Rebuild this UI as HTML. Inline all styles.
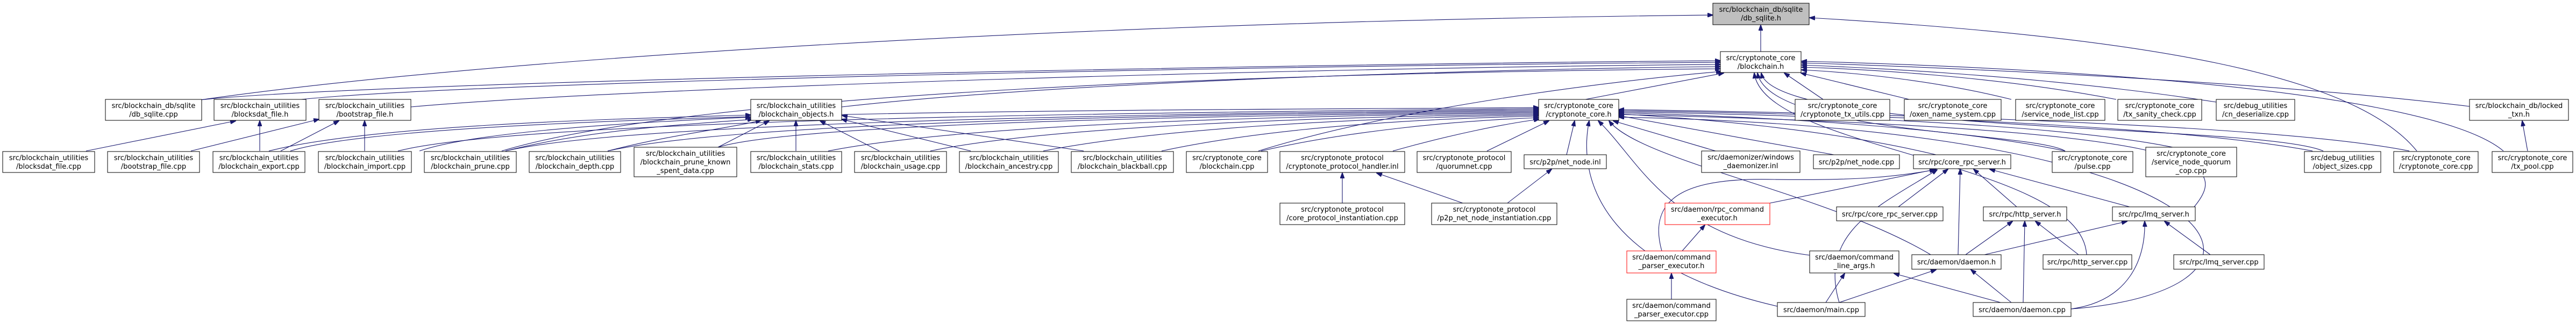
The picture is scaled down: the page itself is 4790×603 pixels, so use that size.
<!DOCTYPE html>
<html><head><meta charset="utf-8">
<style>
html,body{margin:0;padding:0;background:#fff;}
svg{display:block;}
text{font-family:"DejaVu Sans","Liberation Sans",sans-serif;font-size:13px;fill:#000;}
.e{fill:none;stroke:#191970;stroke-width:1.1;marker-end:url(#a);}
rect{fill:#fff;stroke:#000;stroke-width:1;}
.g{fill:#bfbfbf;}
.r{stroke:#ff0000;}
</style></head><body>
<svg width="4790" height="603" viewBox="0 0 4790 603" xmlns="http://www.w3.org/2000/svg">
<defs><marker id="a" markerUnits="userSpaceOnUse" markerWidth="11" markerHeight="8" refX="10" refY="4" orient="auto"><path d="M0,0 L11,4 L0,8 z" fill="#191970" stroke="#191970"/></marker></defs>

<!-- edges to sqlite.h -->
<path class="e" d="M3274,96 L3274,47"/>
<path class="e" d="M372,186 C900,110 2000,40 3185,28"/>
<path class="e" d="M4494,281 C4380,140 4000,70 3365,33"/>

<!-- edges to blockchain.h -->
<path class="e" d="M372,186 C700,150 2500,118 3199,113"/>
<path class="e" d="M560,185 C900,150 2500,120 3199,116"/>
<path class="e" d="M764,199 C1200,160 2500,125 3199,120"/>
<path class="e" d="M1565,199 C2000,150 2800,128 3199,124"/>
<path class="e" d="M933,281 C1300,170 2400,135 3199,128"/>
<path class="e" d="M2340,281 C2600,200 3000,150 3201,133"/>
<path class="e" d="M2948,185 L3205,136"/>
<path class="e" d="M3390,185 L3318,136"/>
<path class="e" d="M3550,185 L3349,136"/>
<path class="e" d="M3740,185 C3600,150 3450,135 3350,130"/>
<path class="e" d="M3935,185 C3700,140 3450,128 3350,125"/>
<path class="e" d="M4121,190 C3800,140 3450,125 3350,121"/>
<path class="e" d="M4592,198 C4200,150 3600,125 3350,117"/>
<path class="e" d="M4655,281 C4500,150 3600,120 3350,114"/>
<path class="e" d="M4320,281 C4200,230 3300,250 3275,136"/>
<path class="e" d="M3840,281 C3780,245 3290,250 3268,136"/>
<path class="e" d="M3880,474 C3870,300 3280,280 3262,136"/>

<!-- edges to cryptonote_core.h -->
<path class="e" d="M540,281 C800,200 2400,205 2861,200"/>
<path class="e" d="M740,281 C1000,215 2400,208 2861,202"/>
<path class="e" d="M940,281 C1200,220 2400,210 2861,204"/>
<path class="e" d="M1130,281 C1400,220 2400,212 2861,206"/>
<path class="e" d="M1335,274 C1500,225 2400,214 2861,208"/>
<path class="e" d="M1540,281 C1800,230 2400,215 2861,210"/>
<path class="e" d="M1730,281 C1950,235 2450,218 2861,212"/>
<path class="e" d="M1940,281 C2150,240 2500,220 2861,214"/>
<path class="e" d="M2160,281 C2350,240 2600,222 2861,216"/>
<path class="e" d="M2345,281 C2500,245 2700,225 2861,219"/>
<path class="e" d="M2590,281 C2700,250 2800,230 2862,222"/>
<path class="e" d="M2765,281 L2880,225"/>
<path class="e" d="M2913,288 L2928,225"/>
<path class="e" d="M3190,281 L3000,225"/>
<path class="e" d="M3410,288 L3009,215"/>
<path class="e" d="M3600,288 C3400,240 3150,220 3010,212"/>
<path class="e" d="M3840,281 C3600,230 3200,215 3010,210"/>
<path class="e" d="M4040,274 C3800,225 3250,212 3010,208"/>
<path class="e" d="M4300,281 C4000,225 3300,210 3010,206"/>
<path class="e" d="M4480,281 C4200,225 3300,208 3010,204"/>
<path class="e" d="M4080,385 C4150,300 4100,240 3010,213"/>
<path class="e" d="M3590,474 C3400,360 3050,300 2992,225"/>
<path class="e" d="M3365,475 C3100,440 3050,300 2972,225"/>
<path class="e" d="M3305,570 C3000,500 2930,350 2955,225"/>
<path class="e" d="M3851,575 C4300,540 4200,240 3010,218"/>

<!-- edges to blockchain_objects.h -->
<path class="e" d="M500,281 C700,230 1200,220 1396,214"/>
<path class="e" d="M780,281 C900,240 1250,225 1396,218"/>
<path class="e" d="M940,281 C1100,240 1300,230 1400,222"/>
<path class="e" d="M1130,281 C1250,250 1350,240 1415,224"/>
<path class="e" d="M1335,274 L1430,225"/>
<path class="e" d="M1480,281 L1480,225"/>
<path class="e" d="M1635,281 L1525,225"/>
<path class="e" d="M1805,281 L1565,222"/>
<path class="e" d="M2015,281 L1566,215"/>

<!-- blocksdat / bootstrap -->
<path class="e" d="M160,281 L438,225"/>
<path class="e" d="M483,281 L483,225"/>
<path class="e" d="M355,281 L593,222"/>
<path class="e" d="M522,281 L630,225"/>
<path class="e" d="M678,281 L678,225"/>

<!-- protocol handler / net_node.inl -->
<path class="e" d="M2496,378 L2496,322"/>
<path class="e" d="M2720,378 L2560,322"/>
<path class="e" d="M2803,378 L2885,315"/>

<!-- core_rpc_server.h -->
<path class="e" d="M3291,378 L3600,315"/>
<path class="e" d="M3530,385 L3622,315"/>
<path class="e" d="M3750,385 L3670,315"/>
<path class="e" d="M3960,385 L3700,315"/>
<path class="e" d="M3641,474 L3645,315"/>
<path class="e" d="M3420,563 C3380,430 3500,380 3602,316"/>
<path class="e" d="M3090,467 C3060,360 3150,330 3300,334 C3450,336 3520,330 3598,316"/>

<!-- rpc_command_executor, parser -->
<path class="e" d="M3128,467 L3170,419"/>
<path class="e" d="M3108,557 L3108,509"/>

<!-- http_server.h -->
<path class="e" d="M3655,474 L3742,412"/>
<path class="e" d="M3762,563 L3765,412"/>
<path class="e" d="M3865,474 L3785,412"/>

<!-- lmq_server.h -->
<path class="e" d="M3690,474 L3955,412"/>
<path class="e" d="M3851,575 C3960,560 3990,480 3988,412"/>
<path class="e" d="M4110,474 L4025,412"/>

<!-- command_line_args.h / daemon.h -->
<path class="e" d="M3395,563 L3430,509"/>
<path class="e" d="M3720,563 L3522,509"/>
<path class="e" d="M3420,563 L3600,502"/>
<path class="e" d="M3740,563 L3665,502"/>

<!-- locked txn -->
<path class="e" d="M4700,281 L4690,225"/>

<!-- NODES -->
<g>
<rect class="g" x="3185" y="6" width="179" height="40"/><text x="3274.5" y="22" text-anchor="middle">src/blockchain_db/sqlite</text><text x="3274.5" y="38" text-anchor="middle">/db_sqlite.h</text>
<rect x="3199" y="96" width="150" height="39"/><text x="3274" y="112" text-anchor="middle">src/cryptonote_core</text><text x="3274" y="128" text-anchor="middle">/blockchain.h</text>

<rect x="196" y="185" width="179" height="39"/><text x="285.5" y="201" text-anchor="middle">src/blockchain_db/sqlite</text><text x="285.5" y="217" text-anchor="middle">/db_sqlite.cpp</text>
<rect x="398" y="185" width="171" height="39"/><text x="483.5" y="201" text-anchor="middle">src/blockchain_utilities</text><text x="483.5" y="217" text-anchor="middle">/blocksdat_file.h</text>
<rect x="593" y="185" width="171" height="39"/><text x="678.5" y="201" text-anchor="middle">src/blockchain_utilities</text><text x="678.5" y="217" text-anchor="middle">/bootstrap_file.h</text>
<rect x="1396" y="185" width="169" height="39"/><text x="1480.5" y="201" text-anchor="middle">src/blockchain_utilities</text><text x="1480.5" y="217" text-anchor="middle">/blockchain_objects.h</text>
<rect x="2861" y="185" width="149" height="39"/><text x="2935.5" y="201" text-anchor="middle">src/cryptonote_core</text><text x="2935.5" y="217" text-anchor="middle">/cryptonote_core.h</text>
<rect x="3338" y="185" width="176" height="39"/><text x="3426" y="201" text-anchor="middle">src/cryptonote_core</text><text x="3426" y="217" text-anchor="middle">/cryptonote_tx_utils.cpp</text>
<rect x="3541" y="185" width="180" height="39"/><text x="3631" y="201" text-anchor="middle">src/cryptonote_core</text><text x="3631" y="217" text-anchor="middle">/oxen_name_system.cpp</text>
<rect x="3748" y="185" width="166" height="39"/><text x="3831" y="201" text-anchor="middle">src/cryptonote_core</text><text x="3831" y="217" text-anchor="middle">/service_node_list.cpp</text>
<rect x="3938" y="185" width="156" height="39"/><text x="4016" y="201" text-anchor="middle">src/cryptonote_core</text><text x="4016" y="217" text-anchor="middle">/tx_sanity_check.cpp</text>
<rect x="4121" y="185" width="146" height="39"/><text x="4194" y="201" text-anchor="middle">src/debug_utilities</text><text x="4194" y="217" text-anchor="middle">/cn_deserialize.cpp</text>
<rect x="4592" y="185" width="184" height="39"/><text x="4684" y="201" text-anchor="middle">src/blockchain_db/locked</text><text x="4684" y="217" text-anchor="middle">_txn.h</text>

<rect x="5" y="282" width="171" height="39"/><text x="90.5" y="298" text-anchor="middle">src/blockchain_utilities</text><text x="90.5" y="314" text-anchor="middle">/blocksdat_file.cpp</text>
<rect x="200" y="282" width="171" height="39"/><text x="285.5" y="298" text-anchor="middle">src/blockchain_utilities</text><text x="285.5" y="314" text-anchor="middle">/bootstrap_file.cpp</text>
<rect x="396" y="282" width="171" height="39"/><text x="481.5" y="298" text-anchor="middle">src/blockchain_utilities</text><text x="481.5" y="314" text-anchor="middle">/blockchain_export.cpp</text>
<rect x="592" y="282" width="173" height="39"/><text x="678.5" y="298" text-anchor="middle">src/blockchain_utilities</text><text x="678.5" y="314" text-anchor="middle">/blockchain_import.cpp</text>
<rect x="789" y="282" width="171" height="39"/><text x="874.5" y="298" text-anchor="middle">src/blockchain_utilities</text><text x="874.5" y="314" text-anchor="middle">/blockchain_prune.cpp</text>
<rect x="984" y="282" width="170" height="39"/><text x="1069" y="298" text-anchor="middle">src/blockchain_utilities</text><text x="1069" y="314" text-anchor="middle">/blockchain_depth.cpp</text>
<rect x="1179" y="274" width="191" height="55"/><text x="1274.5" y="290" text-anchor="middle">src/blockchain_utilities</text><text x="1274.5" y="306" text-anchor="middle">/blockchain_prune_known</text><text x="1274.5" y="322" text-anchor="middle">_spent_data.cpp</text>
<rect x="1396" y="282" width="169" height="39"/><text x="1480.5" y="298" text-anchor="middle">src/blockchain_utilities</text><text x="1480.5" y="314" text-anchor="middle">/blockchain_stats.cpp</text>
<rect x="1589" y="282" width="171" height="39"/><text x="1674.5" y="298" text-anchor="middle">src/blockchain_utilities</text><text x="1674.5" y="314" text-anchor="middle">/blockchain_usage.cpp</text>
<rect x="1784" y="282" width="184" height="39"/><text x="1876" y="298" text-anchor="middle">src/blockchain_utilities</text><text x="1876" y="314" text-anchor="middle">/blockchain_ancestry.cpp</text>
<rect x="1992" y="282" width="190" height="39"/><text x="2087" y="298" text-anchor="middle">src/blockchain_utilities</text><text x="2087" y="314" text-anchor="middle">/blockchain_blackball.cpp</text>
<rect x="2206" y="282" width="151" height="39"/><text x="2281.5" y="298" text-anchor="middle">src/cryptonote_core</text><text x="2281.5" y="314" text-anchor="middle">/blockchain.cpp</text>
<rect x="2380" y="282" width="232" height="39"/><text x="2496" y="298" text-anchor="middle">src/cryptonote_protocol</text><text x="2496" y="314" text-anchor="middle">/cryptonote_protocol_handler.inl</text>
<rect x="2635" y="282" width="175" height="39"/><text x="2722.5" y="298" text-anchor="middle">src/cryptonote_protocol</text><text x="2722.5" y="314" text-anchor="middle">/quorumnet.cpp</text>
<rect x="2834" y="288" width="153" height="26"/><text x="2910.5" y="306" text-anchor="middle">src/p2p/net_node.inl</text>
<rect x="3164" y="281" width="183" height="40"/><text x="3255.5" y="297" text-anchor="middle">src/daemonizer/windows</text><text x="3255.5" y="313" text-anchor="middle">_daemonizer.inl</text>
<rect x="3372" y="288" width="160" height="26"/><text x="3452" y="306" text-anchor="middle">src/p2p/net_node.cpp</text>
<rect x="3558" y="288" width="181" height="26"/><text x="3648.5" y="306" text-anchor="middle">src/rpc/core_rpc_server.h</text>
<rect x="3816" y="282" width="150" height="39"/><text x="3891" y="298" text-anchor="middle">src/cryptonote_core</text><text x="3891" y="314" text-anchor="middle">/pulse.cpp</text>
<rect x="3990" y="274" width="169" height="55"/><text x="4074.5" y="290" text-anchor="middle">src/cryptonote_core</text><text x="4074.5" y="306" text-anchor="middle">/service_node_quorum</text><text x="4074.5" y="322" text-anchor="middle">_cop.cpp</text>
<rect x="4285" y="282" width="142" height="39"/><text x="4356" y="298" text-anchor="middle">src/debug_utilities</text><text x="4356" y="314" text-anchor="middle">/object_sizes.cpp</text>
<rect x="4451" y="282" width="157" height="39"/><text x="4529.5" y="298" text-anchor="middle">src/cryptonote_core</text><text x="4529.5" y="314" text-anchor="middle">/cryptonote_core.cpp</text>
<rect x="4634" y="282" width="150" height="39"/><text x="4709" y="298" text-anchor="middle">src/cryptonote_core</text><text x="4709" y="314" text-anchor="middle">/tx_pool.cpp</text>

<rect x="2380" y="378" width="232" height="40"/><text x="2496" y="394" text-anchor="middle">src/cryptonote_protocol</text><text x="2496" y="410" text-anchor="middle">/core_protocol_instantiation.cpp</text>
<rect x="2662" y="378" width="233" height="40"/><text x="2778.5" y="394" text-anchor="middle">src/cryptonote_protocol</text><text x="2778.5" y="410" text-anchor="middle">/p2p_net_node_instantiation.cpp</text>
<rect class="r" x="3096" y="378" width="195" height="40"/><text x="3193.5" y="394" text-anchor="middle">src/daemon/rpc_command</text><text x="3193.5" y="410" text-anchor="middle">_executor.h</text>
<rect x="3415" y="385" width="198" height="26"/><text x="3514" y="403" text-anchor="middle">src/rpc/core_rpc_server.cpp</text>
<rect x="3688" y="385" width="155" height="26"/><text x="3765.5" y="403" text-anchor="middle">src/rpc/http_server.h</text>
<rect x="3928" y="385" width="154" height="26"/><text x="4005" y="403" text-anchor="middle">src/rpc/lmq_server.h</text>

<rect class="r" x="3025" y="467" width="166" height="41"/><text x="3108" y="483" text-anchor="middle">src/daemon/command</text><text x="3108" y="499" text-anchor="middle">_parser_executor.h</text>
<rect x="3365" y="467" width="166" height="41"/><text x="3448" y="483" text-anchor="middle">src/daemon/command</text><text x="3448" y="499" text-anchor="middle">_line_args.h</text>
<rect x="3555" y="474" width="166" height="27"/><text x="3638" y="492" text-anchor="middle">src/daemon/daemon.h</text>
<rect x="3799" y="474" width="165" height="27"/><text x="3881.5" y="492" text-anchor="middle">src/rpc/http_server.cpp</text>
<rect x="4042" y="474" width="168" height="27"/><text x="4126" y="492" text-anchor="middle">src/rpc/lmq_server.cpp</text>

<rect x="3025" y="557" width="166" height="40"/><text x="3108" y="573" text-anchor="middle">src/daemon/command</text><text x="3108" y="589" text-anchor="middle">_parser_executor.cpp</text>
<rect x="3305" y="563" width="163" height="26"/><text x="3386.5" y="581" text-anchor="middle">src/daemon/main.cpp</text>
<rect x="3669" y="563" width="182" height="26"/><text x="3760" y="581" text-anchor="middle">src/daemon/daemon.cpp</text>
</g>
</svg>
</body></html>
